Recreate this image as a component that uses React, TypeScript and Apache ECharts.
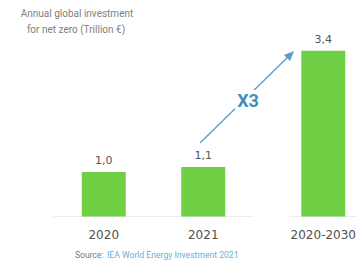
import React, { useEffect, useRef } from "react";
import * as echarts from "echarts";

const categoriesA = ["2020", "2021"];
const valuesA = [1.0, 1.1];
const categoriesB = ["2020-2030"];
const valuesB = [3.4];
const titleLines = ["Annual global investment", "for net zero (Trillion €)"];
const multiplierText = "X3";
const sourcePrefix = "Source:";
const sourceText = "IEA World Energy Investment 2021";

const GREEN = "#6fd046";
const fmt = (v: number) => v.toFixed(1).replace(".", ",");

export default function App() {
  const ref = useRef<HTMLDivElement>(null);
  useEffect(() => {
    document.body.style.margin = "0";
    const chart = echarts.init(ref.current!, undefined, { renderer: "svg" });
    const yCommon = {
      type: "value" as const,
      min: 0.12,
      max: 3.4,
      show: false,
    };
    const xCommon = {
      type: "category" as const,
      axisTick: { show: false },
      axisLine: { show: true, lineStyle: { color: "#ececec", width: 1 } },
      axisLabel: { color: "#505050", fontSize: 12, margin: 12, fontFamily: "DejaVu Sans" },
    };
    const label = {
      show: true,
      position: "top" as const,
      color: "#555",
      fontSize: 11,
      fontFamily: "DejaVu Sans",
      distance: 6,
      formatter: (p: any) => fmt(p.value),
    };
    chart.setOption({
      animation: false,
      grid: [
        { left: 54, width: 199, top: 50.7, bottom: 53.5 },
        { left: 290, width: 76, top: 50.7, bottom: 53.5 },
      ],
      xAxis: [
        { ...xCommon, gridIndex: 0, data: categoriesA },
        { ...xCommon, gridIndex: 1, data: categoriesB },
      ],
      yAxis: [
        { ...yCommon, gridIndex: 0 },
        { ...yCommon, gridIndex: 1 },
      ],
      series: [
        {
          type: "bar",
          xAxisIndex: 0,
          yAxisIndex: 0,
          data: valuesA,
          barWidth: 44,
          itemStyle: { color: GREEN },
          label,
        },
        {
          type: "bar",
          xAxisIndex: 1,
          yAxisIndex: 1,
          data: valuesB,
          barWidth: 44,
          itemStyle: { color: GREEN },
          label,
        },
      ],
      graphic: [
        {
          type: "text",
          x: 77,
          y: 13,
          style: {
            text: titleLines[0],
            fill: "#808080",
            font: "10px Roboto",
            align: "center",
            verticalAlign: "middle",
          },
        },
        {
          type: "text",
          x: 76,
          y: 29,
          style: {
            text: titleLines[1],
            fill: "#808080",
            font: "10px Roboto",
            align: "center",
            verticalAlign: "middle",
          },
        },
        {
          type: "line",
          shape: { x1: 200, y1: 143, x2: 291, y2: 54 },
          style: { stroke: "#5a9cc4", lineWidth: 1.3 },
        },
        {
          type: "polygon",
          shape: { points: [[294, 51], [284, 55], [290, 61]] },
          style: { fill: "#5a9cc4" },
        },
        {
          type: "text",
          x: 248,
          y: 100,
          style: {
            text: multiplierText,
            fill: "#3f8fc2",
            font: "bold 18px Roboto",
            align: "center",
            verticalAlign: "middle",
            backgroundColor: "#fff",
            padding: [1, 2],
          },
        },
        {
          type: "text",
          x: 75,
          y: 255,
          style: {
            text: `{a|${sourcePrefix}} {b|${sourceText}}`,
            verticalAlign: "middle",
            rich: {
              a: { fill: "#777", font: "8.6px Roboto" },
              b: { fill: "#6aaedb", font: "8.6px Roboto" },
            },
          },
        },
      ],
    });
    return () => chart.dispose();
  }, []);
  return <div ref={ref} style={{ width: 359, height: 270 }} />;
}
